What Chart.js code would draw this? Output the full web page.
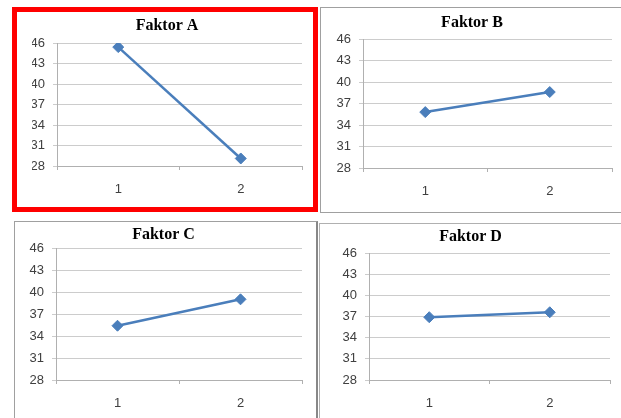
<!DOCTYPE html>
<html>
<head>
<meta charset="utf-8">
<script src="https://cdn.jsdelivr.net/npm/chart.js@4"></script>
<style>
  html, body { margin: 0; padding: 0; background: #fff; }
  #wrap { position: relative; width: 621px; height: 418px; overflow: hidden; background: #fff; }
  #wrap canvas { position: absolute; left: 0; top: 0; }
  .frame { position: absolute; box-sizing: border-box; }
</style>
</head>
<body>
<div id="wrap">
  <div class="frame" style="left:320px;top:7px;width:320px;height:206px;border:1px solid #a0a0a0;"></div>
  <div class="frame" style="left:14px;top:221px;width:304px;height:220px;border:1px solid #a0a0a0;border-right:2px solid #888;"></div>
  <div class="frame" style="left:319px;top:223px;width:320px;height:220px;border:1px solid #b0b0b0;"></div>
  <div class="frame" style="left:12px;top:7px;width:306px;height:205px;border:5px solid #ff0000;"></div>
  <canvas id="chartA" width="621" height="418"></canvas>
  <canvas id="chartB" width="621" height="418"></canvas>
  <canvas id="chartC" width="621" height="418"></canvas>
  <canvas id="chartD" width="621" height="418"></canvas>
</div>
<script>
// dados
const categories = ['1', '2'];
const faktorA = [45.4, 29.1];
const faktorB = [35.8, 38.6];
const faktorC = [35.4, 39.0];
const faktorD = [36.9, 37.6];
const yMin = 28, yMax = 46, yStep = 3;

// posição de cada painel (área do gráfico e centro do título)
const panels = [
  { id: 'chartA', title: 'Faktor A', data: faktorA, left: 57, right: 302, top: 43, bottom: 166, tx: 167, ty: 26 },
  { id: 'chartB', title: 'Faktor B', data: faktorB, left: 363, right: 612, top: 39, bottom: 168, tx: 472, ty: 23 },
  { id: 'chartC', title: 'Faktor C', data: faktorC, left: 56, right: 302, top: 248, bottom: 380, tx: 163.5, ty: 235 },
  { id: 'chartD', title: 'Faktor D', data: faktorD, left: 369, right: 610, top: 253, bottom: 380, tx: 470.5, ty: 237 }
];

const W = 621, H = 418;
const xAxisH = 32;
const titleSize = 16, titleLine = titleSize * 1.2;
const blue = '#4a7ebb';

function createPanel(p) {
  const yW = p.left + p.right - 2 * p.tx;
  const ctx = document.getElementById(p.id).getContext('2d');
  new Chart(ctx, {
    type: 'line',
    data: {
      labels: categories,
      datasets: [{
        data: p.data,
        borderColor: blue,
        backgroundColor: blue,
        borderWidth: 2.5,
        tension: 0,
        pointStyle: 'rectRot',
        pointRadius: 5.5,
        pointBorderWidth: 1,
        pointBackgroundColor: blue,
        pointBorderColor: blue
      }]
    },
    options: {
      responsive: false,
      animation: false,
      layout: {
        padding: { left: p.left - yW, right: W - p.right, top: 0, bottom: H - p.bottom - xAxisH }
      },
      plugins: {
        legend: { display: false },
        tooltip: { enabled: false },
        title: {
          display: true,
          text: p.title,
          color: '#000',
          font: { family: '"Liberation Serif", "Times New Roman", serif', size: titleSize, weight: 'bold' },
          padding: { top: p.ty - titleLine / 2, bottom: p.top - p.ty - titleLine / 2 }
        }
      },
      scales: {
        x: {
          offset: true,
          grid: { offset: true, drawOnChartArea: false, drawTicks: true, tickLength: 4, color: '#b0b0b0' },
          border: { color: '#b0b0b0' },
          ticks: { color: '#404040', padding: 12, font: { family: '"Liberation Sans", Arial, sans-serif', size: 13 } },
          afterFit: (s) => { s.height = xAxisH; }
        },
        y: {
          min: yMin,
          max: yMax,
          grid: { color: '#cccccc', drawTicks: true, tickLength: 4 },
          border: { color: '#b0b0b0' },
          ticks: { stepSize: yStep, color: '#404040', padding: 8, font: { family: '"Liberation Sans", Arial, sans-serif', size: 13 } },
          afterFit: (s) => { s.width = yW; }
        }
      }
    }
  });
}

panels.forEach(createPanel);
</script>
</body>
</html>
